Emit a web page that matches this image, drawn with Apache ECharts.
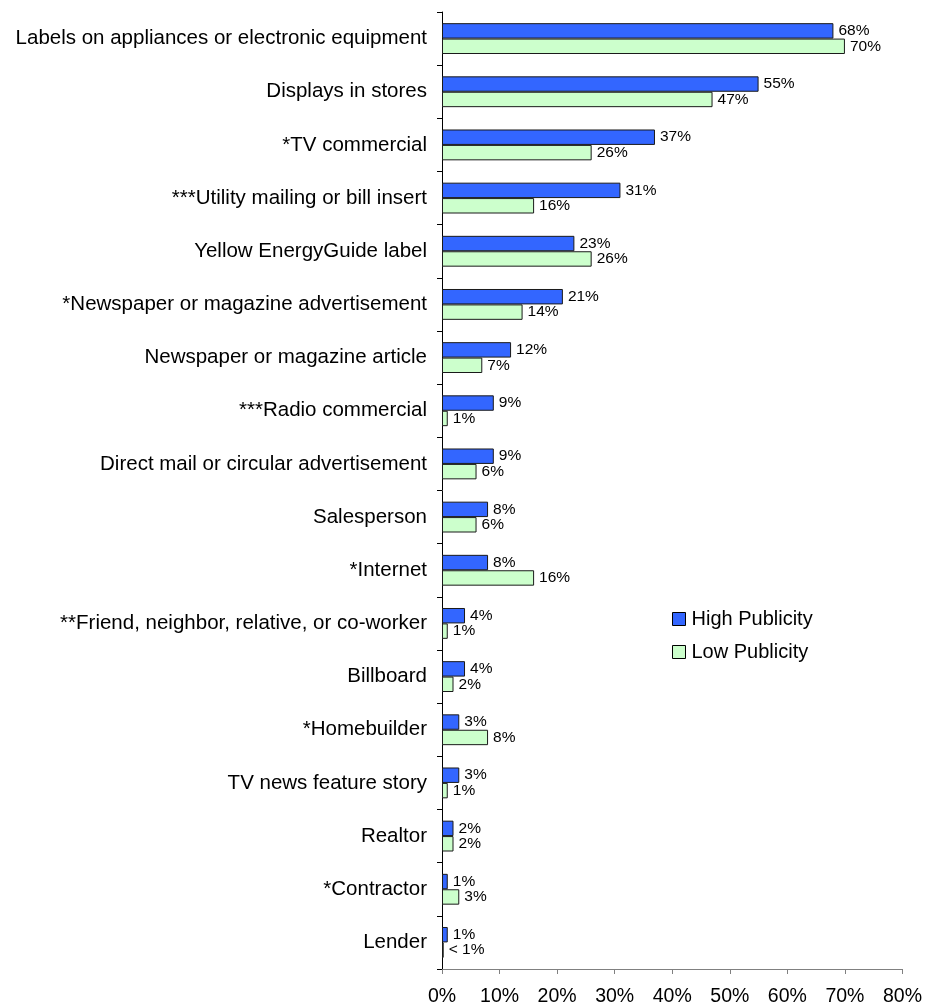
<!DOCTYPE html>
<html>
<head>
<meta charset="utf-8">
<title>Sources of information</title>
<script src="https://cdn.jsdelivr.net/npm/echarts@6/dist/echarts.min.js"></script>
<style>
  html, body { margin: 0; padding: 0; background: #fff; }
  #chart { width: 925px; height: 1007px; }
</style>
</head>
<body>
<div id="chart"></div>
<script>
// Information sources, top to bottom
const categories = [
  "Labels on appliances or electronic equipment",
  "Displays in stores",
  "*TV commercial",
  "***Utility mailing or bill insert",
  "Yellow EnergyGuide label",
  "*Newspaper or magazine advertisement",
  "Newspaper or magazine article",
  "***Radio commercial",
  "Direct mail or circular advertisement",
  "Salesperson",
  "*Internet",
  "**Friend, neighbor, relative, or co-worker",
  "Billboard",
  "*Homebuilder",
  "TV news feature story",
  "Realtor",
  "*Contractor",
  "Lender"
];

// Percent of respondents
const highPublicity = [68, 55, 37, 31, 23, 21, 12, 9, 9, 8, 8, 4, 4, 3, 3, 2, 1, 1];
const lowPublicity  = [70, 47, 26, 16, 26, 14, 7, 1, 6, 6, 16, 1, 2, 8, 1, 2, 3, 0.3];

const xTicks = [0, 10, 20, 30, 40, 50, 60, 70, 80];

const fontFamily = '"Liberation Sans", Arial, sans-serif';

function pctLabel(p) {
  return p.value < 1 ? '< 1%' : p.value + '%';
}

const chart = echarts.init(document.getElementById('chart'), null, { renderer: 'canvas' });

chart.setOption({
  animation: false,
  backgroundColor: '#ffffff',
  textStyle: { fontFamily: fontFamily, color: '#000' },
  grid: { left: 442, right: 22, top: 12, bottom: 38, containLabel: false },
  legend: {
    orient: 'vertical',
    left: 672,
    top: 609,
    padding: 0,
    itemWidth: 13,
    itemHeight: 13,
    itemGap: 13,
    icon: 'rect',
    textStyle: { fontFamily: fontFamily, fontSize: 20, color: '#000', padding: [0, 0, 0, 1] },
    itemStyle: { borderColor: '#000', borderWidth: 1 },
    data: ['High Publicity', 'Low Publicity']
  },
  xAxis: {
    type: 'value',
    min: xTicks[0],
    max: xTicks[xTicks.length - 1],
    interval: 10,
    splitLine: { show: false },
    axisLine: { show: true, lineStyle: { color: '#808080', width: 1 } },
    axisTick: { show: true, length: 5, lineStyle: { color: '#808080' } },
    axisLabel: {
      formatter: '{value}%',
      fontFamily: fontFamily,
      fontSize: 19.5,
      color: '#000',
      margin: 18
    }
  },
  yAxis: {
    type: 'category',
    inverse: true,
    data: categories,
    axisLine: { show: true, lineStyle: { color: '#000', width: 1 } },
    axisTick: { show: true, length: 5, lineStyle: { color: '#000' } },
    axisLabel: {
      fontFamily: fontFamily,
      fontSize: 20.5,
      color: '#000',
      margin: 15
    }
  },
  series: [
    {
      name: 'High Publicity',
      type: 'bar',
      data: highPublicity,
      barGap: '0%',
      barCategoryGap: '42%',
      itemStyle: { color: '#3366FF', borderColor: '#1a1a1a', borderWidth: 1 },
      label: {
        show: true,
        position: 'right',
        distance: 5,
        formatter: pctLabel,
        fontFamily: fontFamily,
        fontSize: 15.5,
        color: '#000'
      }
    },
    {
      name: 'Low Publicity',
      type: 'bar',
      data: lowPublicity,
      barGap: '0%',
      barCategoryGap: '42%',
      itemStyle: { color: '#CCFFCC', borderColor: '#1a1a1a', borderWidth: 1 },
      label: {
        show: true,
        position: 'right',
        distance: 5,
        formatter: pctLabel,
        fontFamily: fontFamily,
        fontSize: 15.5,
        color: '#000'
      }
    }
  ]
});
</script>
</body>
</html>
